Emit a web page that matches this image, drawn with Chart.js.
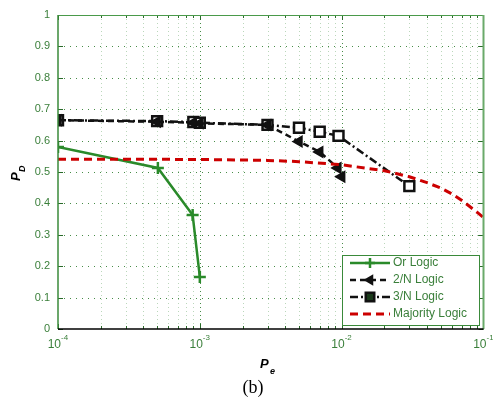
<!DOCTYPE html>
<html><head><meta charset="utf-8">
<script src="https://cdn.jsdelivr.net/npm/chart.js@4.4.0/dist/chart.umd.min.js"></script>
<style>html,body{margin:0;padding:0;background:#fff;overflow:hidden}canvas{display:block}</style>
</head><body>
<canvas id="c" width="493" height="403"></canvas>
<script>
// ---- data ----
const seriesNames = ['Or Logic', '2/N Logic', '3/N Logic', 'Majority Logic'];
const orPe  = [1e-4, 5.06e-4, 8.9e-4, 1e-3];
const orPd  = [0.580, 0.513, 0.363, 0.166];
const n2Pe  = [1e-4, 5e-4, 9e-4, 1e-3, 3e-3, 5e-3, 7e-3, 9.4e-3, 1e-2];
const n2Pd  = [0.665, 0.660, 0.657, 0.655, 0.650, 0.597, 0.564, 0.513, 0.485];
const n3Pe  = [1e-4, 5e-4, 9e-4, 1e-3, 3e-3, 5e-3, 7e-3, 9.5e-3, 3e-2];
const n3Pd  = [0.665, 0.662, 0.659, 0.657, 0.650, 0.641, 0.628, 0.615, 0.455];
const majPe = [1e-4, 1e-3, 3e-3, 5e-3, 1e-2, 2e-2, 3e-2, 4e-2, 5e-2, 6e-2, 7e-2, 8e-2, 9e-2, 1e-1];
const majPd = [0.541, 0.540, 0.537, 0.533, 0.523, 0.504, 0.485, 0.466, 0.449, 0.430, 0.410, 0.390, 0.372, 0.355];
const xTickVals = [1e-4, 1e-3, 1e-2, 1e-1];
const xTickExps = ['-4', '-3', '-2', '-1'];
const yTickVals = [0, 0.1, 0.2, 0.3, 0.4, 0.5, 0.6, 0.7, 0.8, 0.9, 1];
const captionText = '(b)';

const GREEN = '#2a8a2a';
const TXT = '#3a7f3a';
const RED = '#cc0000';

function pts(xs, ys){ return xs.map((v,i)=>({x:v, y:ys[i]})); }

const styles = [
  {color:GREEN, dash:[], width:2.5, ps:'cross', pr:6, pbw:2.5, fill:GREEN, rot:0, order:4},
  {color:'#111', dash:[6,4], width:2.5, ps:'triangle', pr:6, pbw:1.5, fill:'#111', rot:-90, order:2},
  {color:'#111', dash:[8,3,2,3], width:2.5, ps:'rect', pr:7, pbw:2.5, fill:'#fff', rot:0, order:3},
  {color:RED, dash:[8,5], width:3, ps:false, pr:0, pbw:0, fill:RED, rot:0, order:1}
];

const dataSets = [pts(orPe,orPd), pts(n2Pe,n2Pd), pts(n3Pe,n3Pd), pts(majPe,majPd)];

const axesPlugin = {
  id:'matlabAxes',
  beforeDatasetsDraw(chart){
    const {ctx, chartArea:a, scales:{x,y}} = chart;
    ctx.save();
    ctx.lineWidth = 1;
    ctx.setLineDash([1,3]);
    ctx.strokeStyle = 'rgba(60,140,60,0.35)';
    for (let d=-4; d<=-2; d++){
      for (let m=2; m<=9; m++){
        const px = Math.round(x.getPixelForValue(m*Math.pow(10,d)))+0.5;
        ctx.beginPath(); ctx.moveTo(px,a.top); ctx.lineTo(px,a.bottom); ctx.stroke();
      }
    }
    ctx.strokeStyle = 'rgba(40,120,40,0.85)';
    ctx.setLineDash([1,3]);
    xTickVals.slice(1,-1).forEach(v=>{
      const px = Math.round(x.getPixelForValue(v))+0.5;
      ctx.beginPath(); ctx.moveTo(px,a.top); ctx.lineTo(px,a.bottom); ctx.stroke();
    });
    ctx.setLineDash([1,5]);
    yTickVals.slice(1,-1).forEach(v=>{
      const py = Math.round(y.getPixelForValue(v))+0.5;
      ctx.beginPath(); ctx.moveTo(a.left,py); ctx.lineTo(a.right,py); ctx.stroke();
    });
    ctx.restore();
  },
  afterDatasetsDraw(chart){
    const {ctx, chartArea:a, scales:{x,y}} = chart;
    ctx.save();
    ctx.setLineDash([]);
    ctx.lineWidth = 1;
    ctx.strokeStyle = '#2a6a2a';
    yTickVals.forEach(v=>{
      const py = Math.round(y.getPixelForValue(v))+0.5;
      ctx.beginPath(); ctx.moveTo(a.left,py); ctx.lineTo(a.left+5,py); ctx.stroke();
      ctx.beginPath(); ctx.moveTo(a.right,py); ctx.lineTo(a.right-5,py); ctx.stroke();
    });
    for (let d=-4; d<=-2; d++){
      for (let m=1; m<=9; m++){
        const len = m===1 ? 5 : 3;
        const px = Math.round(x.getPixelForValue(m*Math.pow(10,d)))+0.5;
        ctx.beginPath(); ctx.moveTo(px,a.bottom); ctx.lineTo(px,a.bottom-len); ctx.stroke();
        ctx.beginPath(); ctx.moveTo(px,a.top); ctx.lineTo(px,a.top+len); ctx.stroke();
      }
    }
    ctx.strokeStyle = '#4a9a4a'; ctx.lineWidth = 1;
    ctx.beginPath(); ctx.moveTo(a.left, a.top+0.5); ctx.lineTo(a.right, a.top+0.5); ctx.stroke();
    ctx.strokeStyle = '#6aaa6a'; ctx.lineWidth = 2;
    ctx.beginPath(); ctx.moveTo(a.right, a.top); ctx.lineTo(a.right, a.bottom); ctx.stroke();
    ctx.strokeStyle = '#3a8a3a'; ctx.lineWidth = 1.5;
    ctx.beginPath(); ctx.moveTo(a.left, a.top); ctx.lineTo(a.left, a.bottom); ctx.stroke();
    ctx.strokeStyle = '#000'; ctx.lineWidth = 1.5;
    ctx.beginPath(); ctx.moveTo(a.left, a.bottom); ctx.lineTo(a.right, a.bottom); ctx.stroke();

    ctx.fillStyle = TXT;
    xTickVals.forEach((v,i)=>{
      const px = x.getPixelForValue(v);
      ctx.font = '12px "Liberation Sans", Arial, sans-serif';
      ctx.textAlign = 'right'; ctx.textBaseline = 'middle';
      ctx.fillText('10', px+3, a.bottom+16);
      ctx.font = '8px "Liberation Sans", Arial, sans-serif';
      ctx.textAlign = 'left';
      ctx.fillText(xTickExps[i], px+3, a.bottom+9);
    });

    ctx.fillStyle = '#000';
    ctx.textBaseline = 'alphabetic';
    ctx.textAlign = 'left';
    ctx.font = 'italic bold 13px "Liberation Sans", Arial, sans-serif';
    ctx.fillText('P', 260, 368);
    ctx.font = 'italic bold 9px "Liberation Sans", Arial, sans-serif';
    ctx.fillText('e', 270, 374);
    ctx.save();
    ctx.translate(20, 181);
    ctx.rotate(-Math.PI/2);
    ctx.font = 'italic bold 13px "Liberation Sans", Arial, sans-serif';
    ctx.fillText('P', 0, 0);
    ctx.font = 'italic bold 9px "Liberation Sans", Arial, sans-serif';
    ctx.fillText('D', 9, 5);
    ctx.restore();

    ctx.font = '18px "Liberation Serif", "Times New Roman", serif';
    ctx.textAlign = 'center'; ctx.textBaseline = 'middle';
    ctx.fillText(captionText, 253, 388);

    const lx = 342, ly = 255, lw = 137, lh = 70;
    ctx.fillStyle = '#fff';
    ctx.fillRect(lx, ly, lw, lh);
    ctx.strokeStyle = '#3a8a3a'; ctx.lineWidth = 1;
    ctx.strokeRect(lx+0.5, ly+0.5, lw, lh);
    const rowY = [263, 280, 297, 314];
    seriesNames.forEach((name,i)=>{
      const s = styles[i], yy = rowY[i];
      ctx.save();
      ctx.strokeStyle = s.color; ctx.lineWidth = s.width;
      ctx.setLineDash(s.dash);
      ctx.beginPath(); ctx.moveTo(350, yy); ctx.lineTo(390, yy); ctx.stroke();
      ctx.setLineDash([]);
      if (s.ps){
        ctx.fillStyle = i===2 ? '#1a3a1a' : s.fill;
        ctx.strokeStyle = s.color; ctx.lineWidth = s.pbw;
        Chart.helpers.drawPoint(ctx, {pointStyle:s.ps, radius:s.pr-1, rotation:s.rot, borderWidth:s.pbw}, 370, yy);
      }
      ctx.restore();
      ctx.fillStyle = TXT;
      ctx.font = '12px "Liberation Sans", Arial, sans-serif';
      ctx.textAlign = 'left'; ctx.textBaseline = 'middle';
      ctx.fillText(name, 393, yy);
    });
    ctx.restore();
  }
};

new Chart(document.getElementById('c'), {
  type:'scatter',
  data:{
    datasets: dataSets.map((d,i)=>({
      label: seriesNames[i],
      data: d,
      showLine: true,
      borderColor: styles[i].color,
      borderWidth: styles[i].width,
      borderDash: styles[i].dash,
      pointStyle: styles[i].ps,
      pointRadius: styles[i].pr,
      pointRotation: styles[i].rot,
      pointBorderWidth: styles[i].pbw,
      pointBorderColor: styles[i].color,
      pointBackgroundColor: styles[i].fill,
      order: styles[i].order,
      tension: 0
    }))
  },
  plugins:[axesPlugin],
  options:{
    responsive:false,
    animation:false,
    devicePixelRatio:1,
    layout:{padding:{top:15, right:9, left:0, bottom:0}},
    plugins:{legend:{display:false}, tooltip:{enabled:false}},
    scales:{
      x:{
        type:'logarithmic', min:1e-4, max:1e-1,
        afterBuildTicks: s => { s.ticks = xTickVals.map(v=>({value:v})); },
        ticks:{display:false},
        grid:{display:false, drawTicks:false},
        border:{display:false},
        afterFit: s => { s.height = 74; }
      },
      y:{
        type:'linear', min:0, max:1,
        afterBuildTicks: s => { s.ticks = yTickVals.map(v=>({value:v})); },
        ticks:{
          color: TXT,
          padding: 8,
          font:{family:'"Liberation Sans", Arial, sans-serif', size:11},
          callback: v => (v===0 ? '0' : v===1 ? '1' : Number(v).toFixed(1))
        },
        grid:{display:false, drawTicks:false},
        border:{display:false},
        afterFit: s => { s.width = 58; }
      }
    }
  }
});
</script>
</body></html>
